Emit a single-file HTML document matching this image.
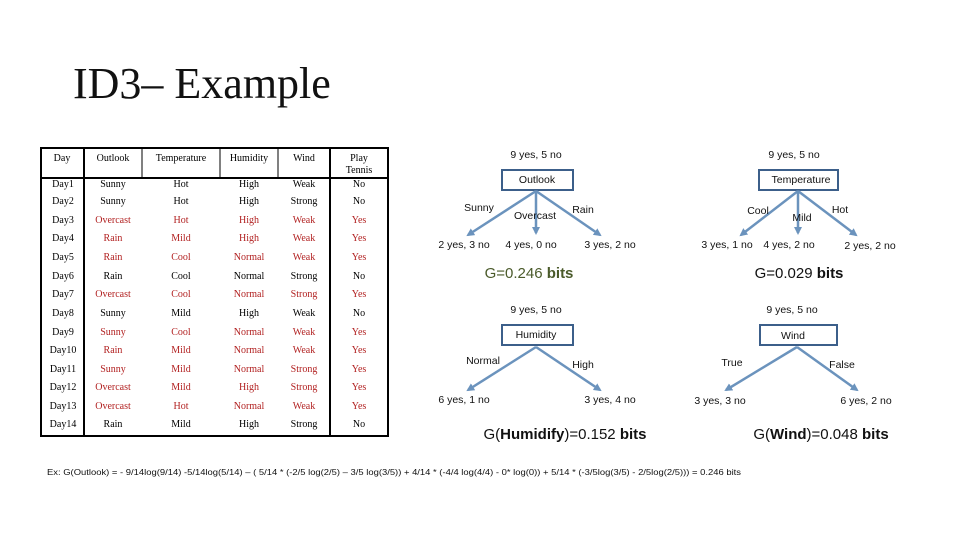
<!DOCTYPE html>
<html><head><meta charset="utf-8"><style>
body{margin:0;background:#fff}
svg{display:block}
.t{font-family:"Liberation Serif",serif;font-size:10px;text-anchor:middle}
.r{fill:#b22222}
.s{font-family:"Liberation Sans",sans-serif;font-size:10.5px;fill:#111}
</style></head><body>
<svg width="960" height="540" viewBox="0 0 960 540">
<defs><marker id="a" markerWidth="8" markerHeight="8" refX="6" refY="4" orient="auto" markerUnits="userSpaceOnUse"><path d="M0,0 L8,4 L0,8 z" fill="#6b93bd"/></marker></defs>
<text x="73" y="98" font-family="Liberation Serif,serif" font-size="44" fill="#111">ID3– Example</text>
<!-- table -->
<g stroke="#000" fill="none">
<rect x="41" y="148" width="347" height="288" stroke-width="2"/>
<line x1="84" y1="148" x2="84" y2="436" stroke-width="2"/>
<line x1="330" y1="148" x2="330" y2="436" stroke-width="2"/>
<line x1="142" y1="148" x2="142" y2="178"/>
<line x1="220" y1="148" x2="220" y2="178"/>
<line x1="278" y1="148" x2="278" y2="178"/>
<line x1="41" y1="178" x2="388" y2="178" stroke-width="2"/>
</g>
<g class="t">
<text x="62" y="161">Day</text><text x="113" y="161">Outlook</text><text x="181" y="161">Temperature</text><text x="249" y="161">Humidity</text><text x="304" y="161">Wind</text><text x="359" y="161">Play</text><text x="359" y="173">Tennis</text>
<text x="63" y="187">Day1</text><text x="113" y="187">Sunny</text><text x="181" y="187">Hot</text><text x="249" y="187">High</text><text x="304" y="187">Weak</text><text x="359" y="187">No</text>
<text x="63" y="204">Day2</text><text x="113" y="204">Sunny</text><text x="181" y="204">Hot</text><text x="249" y="204">High</text><text x="304" y="204">Strong</text><text x="359" y="204">No</text>
<text x="63" y="223">Day3</text><g class="r"><text x="113" y="223">Overcast</text><text x="181" y="223">Hot</text><text x="249" y="223">High</text><text x="304" y="223">Weak</text><text x="359" y="223">Yes</text></g>
<text x="63" y="241">Day4</text><g class="r"><text x="113" y="241">Rain</text><text x="181" y="241">Mild</text><text x="249" y="241">High</text><text x="304" y="241">Weak</text><text x="359" y="241">Yes</text></g>
<text x="63" y="260">Day5</text><g class="r"><text x="113" y="260">Rain</text><text x="181" y="260">Cool</text><text x="249" y="260">Normal</text><text x="304" y="260">Weak</text><text x="359" y="260">Yes</text></g>
<text x="63" y="279">Day6</text><text x="113" y="279">Rain</text><text x="181" y="279">Cool</text><text x="249" y="279">Normal</text><text x="304" y="279">Strong</text><text x="359" y="279">No</text>
<text x="63" y="297">Day7</text><g class="r"><text x="113" y="297">Overcast</text><text x="181" y="297">Cool</text><text x="249" y="297">Normal</text><text x="304" y="297">Strong</text><text x="359" y="297">Yes</text></g>
<text x="63" y="316">Day8</text><text x="113" y="316">Sunny</text><text x="181" y="316">Mild</text><text x="249" y="316">High</text><text x="304" y="316">Weak</text><text x="359" y="316">No</text>
<text x="63" y="335">Day9</text><g class="r"><text x="113" y="335">Sunny</text><text x="181" y="335">Cool</text><text x="249" y="335">Normal</text><text x="304" y="335">Weak</text><text x="359" y="335">Yes</text></g>
<text x="63" y="353">Day10</text><g class="r"><text x="113" y="353">Rain</text><text x="181" y="353">Mild</text><text x="249" y="353">Normal</text><text x="304" y="353">Weak</text><text x="359" y="353">Yes</text></g>
<text x="63" y="372">Day11</text><g class="r"><text x="113" y="372">Sunny</text><text x="181" y="372">Mild</text><text x="249" y="372">Normal</text><text x="304" y="372">Strong</text><text x="359" y="372">Yes</text></g>
<text x="63" y="390">Day12</text><g class="r"><text x="113" y="390">Overcast</text><text x="181" y="390">Mild</text><text x="249" y="390">High</text><text x="304" y="390">Strong</text><text x="359" y="390">Yes</text></g>
<text x="63" y="409">Day13</text><g class="r"><text x="113" y="409">Overcast</text><text x="181" y="409">Hot</text><text x="249" y="409">Normal</text><text x="304" y="409">Weak</text><text x="359" y="409">Yes</text></g>
<text x="63" y="427">Day14</text><text x="113" y="427">Rain</text><text x="181" y="427">Mild</text><text x="249" y="427">High</text><text x="304" y="427">Strong</text><text x="359" y="427">No</text>
</g>
<!-- trees -->
<g fill="none" stroke="#3c5f8a" stroke-width="2">
<rect x="502" y="170" width="71" height="20"/><rect x="759" y="170" width="79" height="20"/>
<rect x="502" y="325" width="71" height="20"/><rect x="760" y="325" width="77" height="20"/>
</g>
<g stroke="#6b93bd" stroke-width="2.5" marker-end="url(#a)">
<line x1="536" y1="191" x2="468" y2="235"/><line x1="536" y1="191" x2="536" y2="233"/><line x1="536" y1="191" x2="600" y2="235"/>
<line x1="798" y1="191" x2="741" y2="235"/><line x1="798" y1="191" x2="798" y2="233"/><line x1="798" y1="191" x2="856" y2="235"/>
<line x1="536" y1="347" x2="468" y2="390"/><line x1="536" y1="347" x2="600" y2="390"/>
<line x1="797" y1="347" x2="726" y2="390"/><line x1="797" y1="347" x2="857" y2="390"/>
</g>
<g class="s" text-anchor="middle">
<text x="536" y="158">9 yes, 5 no</text><text x="537" y="183">Outlook</text>
<text x="479" y="211">Sunny</text><text x="535" y="219">Overcast</text><text x="583" y="213">Rain</text>
<text x="464" y="248">2 yes, 3 no</text><text x="531" y="248">4 yes, 0 no</text><text x="610" y="248">3 yes, 2 no</text>
<text x="794" y="158">9 yes, 5 no</text><text x="801" y="183">Temperature</text>
<text x="758" y="214">Cool</text><text x="802" y="221">Mild</text><text x="840" y="213">Hot</text>
<text x="727" y="248">3 yes, 1 no</text><text x="789" y="248">4 yes, 2 no</text><text x="870" y="249">2 yes, 2 no</text>
<text x="536" y="313">9 yes, 5 no</text><text x="536" y="338">Humidity</text>
<text x="483" y="364">Normal</text><text x="583" y="368">High</text>
<text x="464" y="403">6 yes, 1 no</text><text x="610" y="403">3 yes, 4 no</text>
<text x="792" y="313">9 yes, 5 no</text><text x="793" y="339">Wind</text>
<text x="732" y="366">True</text><text x="842" y="368">False</text>
<text x="720" y="404">3 yes, 3 no</text><text x="866" y="404">6 yes, 2 no</text>
</g>
<g font-family="Liberation Sans,sans-serif" font-size="15" text-anchor="middle">
<text x="529" y="278" fill="#4a5a2a">G=0.246 <tspan font-weight="bold">bits</tspan></text>
<text x="799" y="278" fill="#111">G=0.029 <tspan font-weight="bold">bits</tspan></text>
<text x="565" y="439" fill="#111">G(<tspan font-weight="bold">Humidify</tspan>)=0.152 <tspan font-weight="bold">bits</tspan></text>
<text x="821" y="439" fill="#111">G(<tspan font-weight="bold">Wind</tspan>)=0.048 <tspan font-weight="bold">bits</tspan></text>
</g>
<text x="47" y="475" font-family="Liberation Sans Narrow,Liberation Sans,sans-serif" font-size="8" fill="#111" textLength="694" lengthAdjust="spacingAndGlyphs">Ex: G(Outlook) = - 9/14log(9/14) -5/14log(5/14) – ( 5/14 * (-2/5 log(2/5) – 3/5 log(3/5)) + 4/14 * (-4/4 log(4/4) - 0* log(0)) + 5/14 * (-3/5log(3/5) - 2/5log(2/5))) = 0.246 bits</text>
</svg>
</body></html>
